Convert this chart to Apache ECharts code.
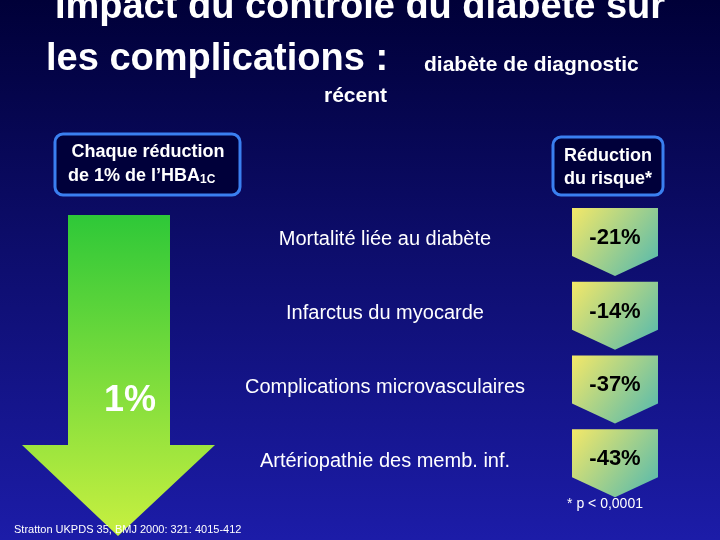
<!DOCTYPE html>
<html><head><meta charset="utf-8">
<script src="https://cdn.jsdelivr.net/npm/echarts@6/dist/echarts.min.js"></script>
<style>html,body{margin:0;padding:0}#c{width:720px;height:540px}</style>
</head><body><div id="c"></div>
<script>
const categories = ["Mortalité liée au diabète","Infarctus du myocarde","Complications microvasculaires","Artériopathie des memb. inf."];
const reductions = [-21,-14,-37,-43];
const font = "Liberation Sans, Arial, sans-serif";
const chart = echarts.init(document.getElementById('c'));
chart.setOption({
  backgroundColor: {type:'linear',x:0,y:0,x2:0,y2:1,colorStops:[{offset:0,color:'#000038'},{offset:1,color:'#1c1ca8'}]},
  grid:{left:570,right:60,top:203,bottom:42},
  xAxis:{type:'value',min:0,max:1,show:false},
  yAxis:{type:'category',data:categories,inverse:true,show:false},
  graphic:[
    {type:'text',left:'center',top:-11,style:{text:'Impact du contrôle du diabète sur',font:'bold 38px '+font,fill:'#fff'}},
    {type:'text',x:46,y:41,style:{text:'les complications : ',font:'bold 38px '+font,fill:'#fff'}},
    {type:'text',x:424,y:55,style:{text:'diabète de diagnostic',font:'bold 21px '+font,fill:'#fff'}},
    {type:'text',x:324,y:86,style:{text:'récent',font:'bold 21px '+font,fill:'#fff'}},
    {type:'rect',shape:{x:55,y:134,width:185,height:61,r:8},style:{fill:'#00003a',stroke:'#3a7ff0',lineWidth:3}},
    {type:'text',x:148,y:143,style:{text:'Chaque réduction',font:'bold 18px '+font,fill:'#fff',align:'center'}},
    {type:'text',x:68,y:166,style:{rich:{a:{font:'bold 18px '+font,fill:'#fff'},s:{font:'bold 12px '+font,fill:'#fff',padding:[8,0,0,0]}},text:'{a|de 1% de l’HBA}{s|1C}'}},
    {type:'rect',shape:{x:553,y:137,width:110,height:58,r:8},style:{fill:'#00003a',stroke:'#3a7ff0',lineWidth:3}},
    {type:'text',x:608,y:145,style:{text:'Réduction\ndu risque*',font:'bold 18px '+font,fill:'#fff',align:'center',lineHeight:23}},
    {type:'polygon',shape:{points:[[68,215],[170,215],[170,445],[215,445],[118,536],[22,445],[68,445]]},
      style:{fill:{type:'linear',x:0,y:0,x2:0,y2:1,colorStops:[{offset:0,color:'#2ec838'},{offset:1,color:'#c8f040'}]}}},
    {type:'text',x:104,y:383,style:{text:'1%',font:'bold 36px '+font,fill:'#fff'}},
    {type:'text',x:605,y:497,style:{text:'* p < 0,0001',font:'14px '+font,fill:'#fff',align:'center'}},
    {type:'text',x:14,y:524,style:{text:'Stratton UKPDS 35, BMJ 2000: 321: 4015-412',font:'11px '+font,fill:'#fff'}}
  ],
  series:[{
    type:'custom',
    data: reductions.map((v,i)=>[0.5,i,v]),
    renderItem:(params,api)=>{
      const p = api.coord([api.value(0), api.value(1)]);
      const x=p[0], y=p[1];
      return {type:'group',children:[
        {type:'polygon',shape:{points:[[x-43,y-32],[x+43,y-32],[x+43,y+16],[x,y+36],[x-43,y+16]]},
          style:{fill:{type:'linear',x:0,y:0,x2:1,y2:1,colorStops:[{offset:0,color:'#f4e868'},{offset:1,color:'#50b8b0'}]}}},
        {type:'text',x:x,y:y-2,style:{text:api.value(2)+'%',font:'bold 22px '+font,fill:'#000',align:'center',verticalAlign:'middle'}},
        {type:'text',x:385,y:y,style:{text:categories[params.dataIndex],font:'20px '+font,fill:'#fff',align:'center',verticalAlign:'middle'}}
      ]};
    }
  }]
});
</script></body></html>
